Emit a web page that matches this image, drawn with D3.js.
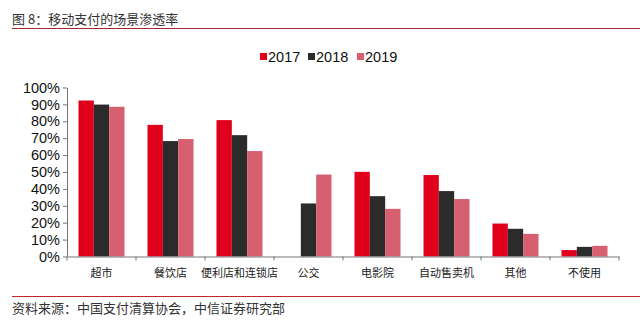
<!DOCTYPE html>
<html>
<head>
<meta charset="utf-8">
<script src="https://cdn.jsdelivr.net/npm/d3@7"></script>
<style>
  body { margin: 0; background: #fff; }
  svg { display: block; }
</style>
</head>
<body>
<script>
// chart data
const categories = ["超市", "餐饮店", "便利店和连锁店", "公交", "电影院", "自动售卖机", "其他", "不使用"]
const years = ["2017", "2018", "2019"]
const values2017 = [92.3, 77.9, 80.7, 0, 50.1, 48.2, 19.5, 3.8]
const values2018 = [89.9, 68.3, 71.8, 31.4, 35.7, 38.7, 16.4, 5.7]
const values2019 = [88.6, 69.5, 62.4, 48.5, 28.2, 34.0, 13.4, 6.3]
const yTicks = [0, 10, 20, 30, 40, 50, 60, 70, 80, 90, 100]
const colors = ["#e0001b", "#2b2b2b", "#d6606f"]

const width = 640, height = 326
const svg = d3.select("body").append("svg").attr("width", width).attr("height", height)

// title + rule
svg.append("text")
    .attr("x", 12).attr("y", 24)
    .attr("font-family", "'Noto Sans CJK SC', sans-serif")
    .attr("font-size", 13)
    .attr("fill", "#333")
    .text("图 8：移动支付的场景渗透率")
svg.append("line")
    .attr("x1", 12).attr("x2", 640).attr("y1", 28.5).attr("y2", 28.5)
    .attr("stroke", "#a8262a").attr("stroke-width", 1.2)

// scales
const x0 = d3.scaleBand().domain(categories).range([67, 619]).paddingInner(0).paddingOuter(0)
const x1 = d3.scaleBand().domain(years).range([11.5, x0.bandwidth() - 11.5])
const y = d3.scaleLinear().domain([0, 100]).range([256.5, 87.5])

const series = [values2017, values2018, values2019]

// bars
const groups = svg.selectAll("g.cat").data(categories).join("g")
    .attr("class", "cat")
    .attr("transform", d => "translate(" + x0(d) + ",0)")

groups.selectAll("rect")
    .data((d, i) => years.map((yr, j) => ({ year: yr, value: series[j][i], color: colors[j] })))
    .join("rect")
    .attr("x", d => x1(d.year))
    .attr("width", x1.bandwidth())
    .attr("y", d => y(d.value))
    .attr("height", d => y(0) - y(d.value))
    .attr("fill", d => d.color)

// y axis
const yAxis = svg.append("g")
    .attr("transform", "translate(67,0)")
    .call(d3.axisLeft(y).tickValues(yTicks).tickFormat(d => d + "%").tickSize(4).tickSizeOuter(0))
yAxis.select(".domain").attr("stroke", "#777")
yAxis.selectAll(".tick line").attr("stroke", "#777")
yAxis.selectAll("text")
    .attr("font-family", "'Liberation Sans', Arial, sans-serif")
    .attr("font-size", 14.5)
    .attr("fill", "#111")
    .attr("x", -7)

// x axis
const xAxis = svg.append("g")
    .attr("transform", "translate(0," + y(0) + ")")
    .call(d3.axisBottom(x0).tickSize(0).tickSizeOuter(0))
xAxis.select(".domain").attr("stroke", "#777")
xAxis.selectAll("text")
    .attr("font-family", "'Noto Sans CJK SC', sans-serif")
    .attr("font-size", 11)
    .attr("fill", "#222")
    .attr("dy", "1.55em")
// boundary ticks between categories
const bounds = categories.map(c => x0(c)).concat([x0.range()[1]])
xAxis.selectAll("line.bound").data(bounds).join("line")
    .attr("class", "bound")
    .attr("x1", d => d).attr("x2", d => d)
    .attr("y1", 0).attr("y2", 4)
    .attr("stroke", "#777")

// legend
const legendX = [260, 308, 357]
const legend = svg.selectAll("g.legend").data(years).join("g")
    .attr("class", "legend")
    .attr("transform", (d, i) => "translate(" + legendX[i] + ",57)")
legend.append("rect")
    .attr("x", 0).attr("y", -4).attr("width", 7).attr("height", 7)
    .attr("fill", (d, i) => colors[i])
legend.append("text")
    .attr("x", 8).attr("y", 5)
    .attr("font-family", "'Liberation Sans', Arial, sans-serif")
    .attr("font-size", 14.5)
    .attr("fill", "#111")
    .text(d => d)

// footer
svg.append("line")
    .attr("x1", 12).attr("x2", 640).attr("y1", 296.5).attr("y2", 296.5)
    .attr("stroke", "#c0282d").attr("stroke-width", 1)
svg.append("text")
    .attr("x", 12).attr("y", 313)
    .attr("font-family", "'Noto Sans CJK SC', sans-serif")
    .attr("font-size", 13)
    .attr("fill", "#333")
    .text("资料来源：中国支付清算协会，中信证券研究部")
</script>
</body>
</html>
